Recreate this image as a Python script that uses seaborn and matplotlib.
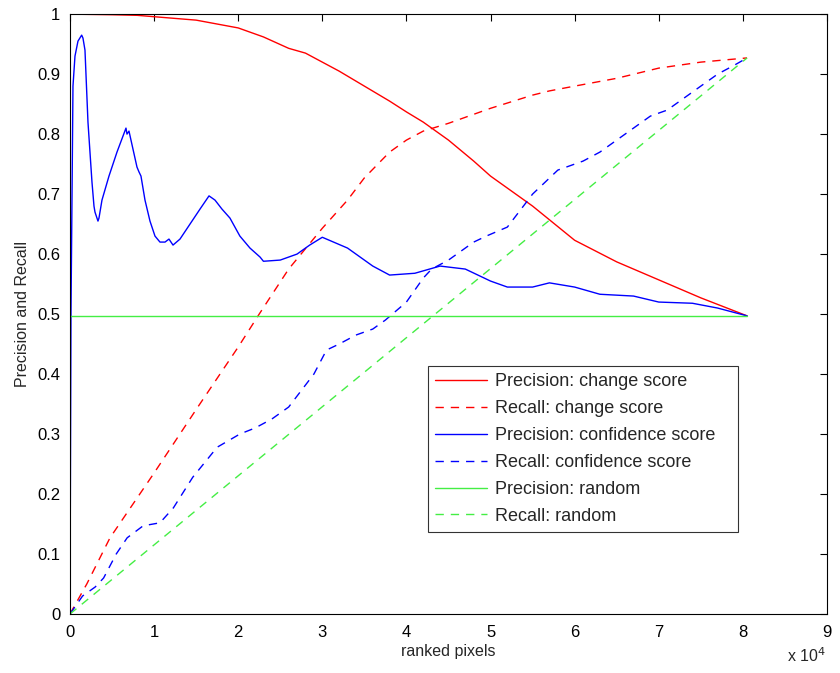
import numpy as np
import pandas as pd
import matplotlib
matplotlib.use("Agg")
import matplotlib.pyplot as plt
import matplotlib.ticker as mticker
import seaborn as sns

# curves (x = ranked pixels)
prec_change_x = [0, 5000, 8000, 15000, 20000, 23000, 26000, 28000, 30000, 32000, 35000,
                 38000, 40000, 42000, 45000, 48000, 50000, 55000, 60000, 65000, 70000,
                 75000, 80500]
prec_change_y = [1.0, 0.999, 0.998, 0.99, 0.977, 0.962, 0.943, 0.935, 0.92, 0.905, 0.88,
                 0.855, 0.837, 0.82, 0.79, 0.755, 0.73, 0.68, 0.623, 0.587, 0.557,
                 0.527, 0.497]

rec_change_x = [0, 2000, 4760, 10000, 15200, 20000, 22500, 26000, 30000, 33000, 35000,
                38000, 40000, 42000, 45000, 50000, 55000, 57000, 60000, 65000, 70000,
                75000, 80500]
rec_change_y = [0, 0.05, 0.127, 0.235, 0.345, 0.445, 0.5, 0.575, 0.643, 0.69, 0.727,
                0.77, 0.79, 0.805, 0.818, 0.843, 0.865, 0.872, 0.88, 0.893, 0.91,
                0.92, 0.927]

prec_conf_x = [0, 119, 357, 595, 951, 1391, 1546, 1784, 2140, 2616, 2854, 2973, 3329,
               3448, 3805, 4637, 5589, 6659, 6778, 7016, 7491, 7967, 8204, 8442, 8918,
               9512, 10107, 10700, 11300, 11770, 12250, 13080, 14270, 15460, 16530,
               17240, 18070, 19020, 20200, 21400, 22600, 23000, 25000, 27000, 28500,
               30000, 33000, 36000, 38000, 41000, 44000, 47000, 50000, 52000, 55000,
               57000, 60000, 63000, 67000, 70000, 74000, 77000, 80500]
prec_conf_y = [0, 0.5, 0.88, 0.93, 0.955, 0.965, 0.96, 0.94, 0.82, 0.72, 0.68, 0.67,
               0.655, 0.66, 0.69, 0.73, 0.77, 0.81, 0.80, 0.805, 0.775, 0.745, 0.737,
               0.73, 0.69, 0.655, 0.63, 0.62, 0.62, 0.625, 0.615, 0.625, 0.65, 0.675,
               0.697, 0.69, 0.675, 0.66, 0.63, 0.61, 0.595, 0.588, 0.59, 0.6, 0.615,
               0.628, 0.61, 0.58, 0.565, 0.568, 0.58, 0.575, 0.555, 0.545, 0.545,
               0.552, 0.545, 0.533, 0.53, 0.52, 0.518, 0.51, 0.497]

rec_conf_x = [0, 1500, 3000, 4000, 5500, 6800, 8700, 10700, 12300, 14600, 17500, 20200,
              22000, 24000, 26000, 29000, 30500, 32000, 34000, 36000, 37500, 40000,
              42000, 43000, 45000, 46000, 48000, 49500, 52000, 55000, 58000, 61000,
              63000, 66000, 69000, 71000, 74000, 77000, 79000, 80500]
rec_conf_y = [0, 0.03, 0.045, 0.06, 0.1, 0.127, 0.147, 0.152, 0.177, 0.228, 0.278, 0.30,
              0.31, 0.325, 0.345, 0.40, 0.44, 0.45, 0.465, 0.475, 0.49, 0.52, 0.56,
              0.575, 0.59, 0.6, 0.62, 0.63, 0.645, 0.7, 0.74, 0.755, 0.77, 0.8, 0.83,
              0.84, 0.87, 0.9, 0.915, 0.927]

prec_rand_x = [0, 80500]
prec_rand_y = [0.497, 0.497]
rec_rand_x = [0, 80500]
rec_rand_y = [0, 0.927]

labels = ["Precision: change score", "Recall: change score",
          "Precision: confidence score", "Recall: confidence score",
          "Precision: random", "Recall: random"]

sns.set_style("white")
plt.rcParams['font.family'] = ['Liberation Sans', 'DejaVu Sans']

fig = plt.figure(figsize=(8.4, 6.73), dpi=100)
ax = fig.add_axes([0.0833, 0.0877, 0.9012, 0.8913])

series = [
    (prec_change_x, prec_change_y, "#ff0000", "-"),
    (rec_change_x, rec_change_y, "#ff0000", (0, (6, 5))),
    (prec_conf_x, prec_conf_y, "#0000ff", "-"),
    (rec_conf_x, rec_conf_y, "#0000ff", (0, (6, 5))),
    (prec_rand_x, prec_rand_y, "#44ee44", "-"),
    (rec_rand_x, rec_rand_y, "#44ee44", (0, (6, 5))),
]
for (xs, ys, col, ls), lab in zip(series, labels):
    df = pd.DataFrame({"x": xs, "y": ys})
    sns.lineplot(data=df, x="x", y="y", ax=ax, color=col, linestyle=ls,
                 linewidth=1.0, label=lab, sort=False, estimator=None)

ax.set_xlim(0, 90000)
ax.set_ylim(0, 1)
ax.set_xticks(np.arange(0, 90001, 10000))
ax.set_yticks(np.arange(0, 1.01, 0.1))
ax.xaxis.set_major_formatter(mticker.FuncFormatter(lambda v, p: f"{v/1e4:g}"))
ax.yaxis.set_major_formatter(mticker.FuncFormatter(lambda v, p: f"{round(v, 1):g}"))
ax.tick_params(direction="in", length=5, width=0.8, labelsize=12,
               top=True, right=True, colors="black")
ax.tick_params(axis="x", pad=8)
ax.tick_params(axis="y", pad=7)
for s in ax.spines.values():
    s.set_color("black")
    s.set_linewidth(0.8)
ax.set_xlabel("ranked pixels", fontsize=11.5, labelpad=3)
ax.set_ylabel("Precision and Recall", fontsize=11.5, labelpad=5)
fig.text(0.937, 0.012, r"x 10$^4$", fontsize=11.5, ha="left", va="bottom")

leg = ax.legend(loc="upper left", bbox_to_anchor=(0.473, 0.143, 0.409, 0.27),
                mode="expand", fontsize=13, frameon=True, fancybox=False,
                borderpad=0.38, handlelength=2.9, labelspacing=0.55,
                handletextpad=0.45, borderaxespad=0)
leg.get_frame().set_edgecolor("black")
leg.get_frame().set_linewidth(0.8)

fig.savefig("out.png", dpi=100)
